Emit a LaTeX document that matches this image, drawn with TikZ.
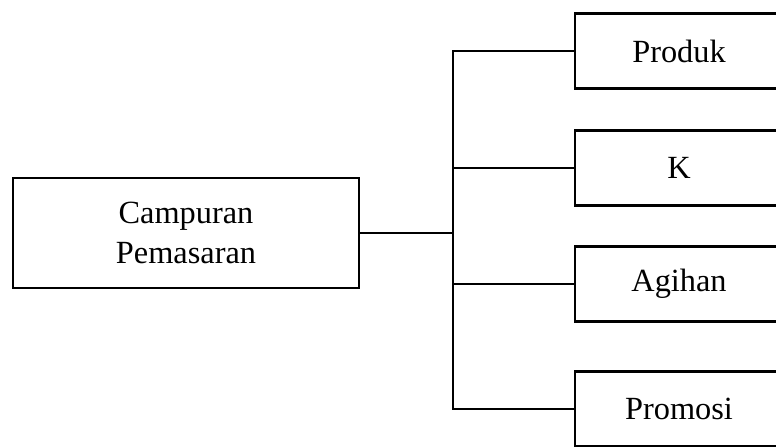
\documentclass[tikz,border=0pt]{standalone}
\usepackage{fontspec}
\setmainfont{Liberation Serif}
\usepackage{tikz}
\usetikzlibrary{positioning,calc}

\begin{document}
\begin{tikzpicture}[
    x=0.025cm, y=-0.025cm,
    box/.style={draw, line width=1.8pt, minimum width=5.2cm, minimum height=1.875cm, align=center, font=\fontsize{23}{28}\selectfont, fill=white},
    link/.style={line width=0.9pt}
]
\clip (0,0) rectangle (776,447);
\fill[white] (0,0) rectangle (776,447);

\node[box, minimum width=8.65cm, minimum height=2.75cm] (mix) at (186,233) {Campuran\\Pemasaran};
\node[box] (produk) at (679,51) {Produk};
\node[box] (k) at (679,168) {K};
\node[box] (agihan) at (679,284) {Agihan};
\node[box] (promosi) at (679,409) {Promosi};

\coordinate (junction) at (453,233);

\draw[link] (mix.east) -- (junction);
\draw[link] (produk.west) -| (junction) |- (promosi.west);
\draw[link] (k.west) -- (k.west -| junction);
\draw[link] (agihan.west) -- (agihan.west -| junction);
\end{tikzpicture}
\end{document}
